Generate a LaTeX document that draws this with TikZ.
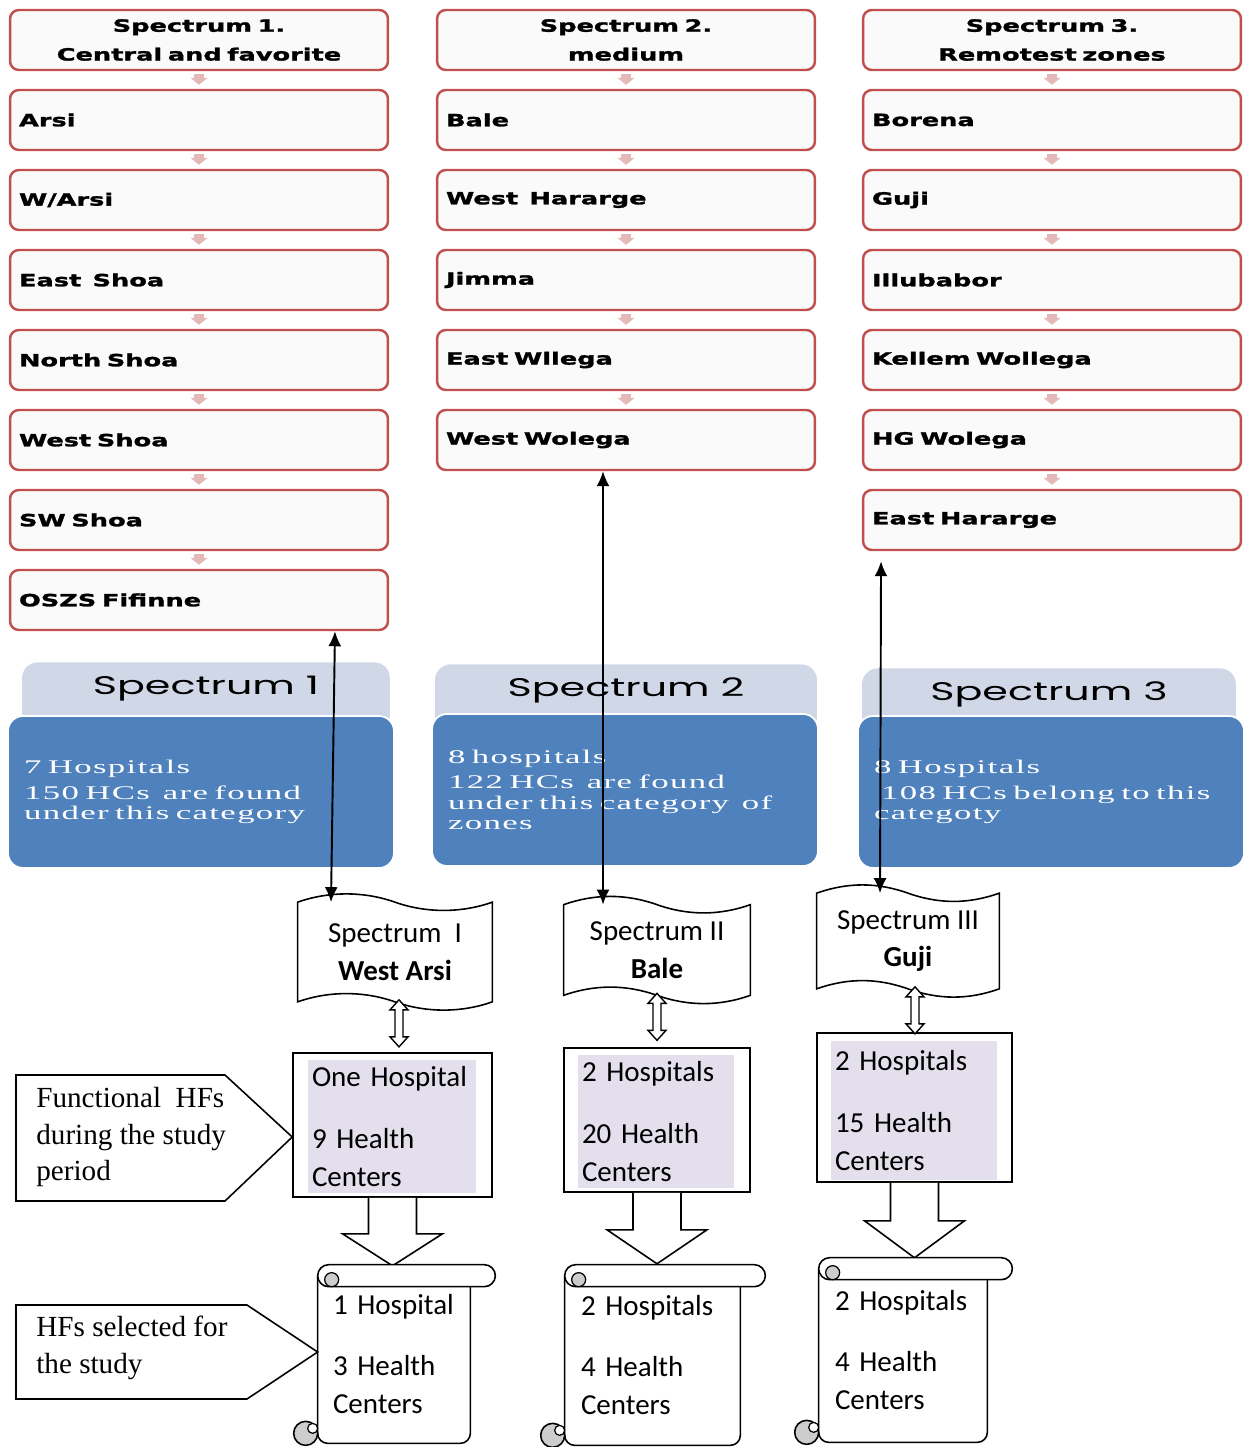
\documentclass[tikz,border=0pt]{standalone}
\usepackage{fontspec}
\setmainfont{Carlito}
\newfontfamily\zonefont[FakeStretch=1.52,FakeBold=1.6]{DejaVu Sans}
\newfontfamily\tabfont[FakeStretch=1.62]{Poppins}
\newfontfamily\bluefont[FakeStretch=1.8,LetterSpace=7]{Liberation Serif}
\newfontfamily\notefont{Liberation Serif}
\usetikzlibrary{arrows.meta,calc}

\definecolor{zonered}{RGB}{192,80,77}
\definecolor{zonepink}{RGB}{229,185,183}
\definecolor{tabgray}{RGB}{208,216,232}
\definecolor{specblue}{RGB}{79,129,189}
\definecolor{hflilac}{RGB}{228,223,236}
\definecolor{curlgray}{RGB}{205,205,205}

% wavy (punched tape) outline round a node
\newcommand\wavyline[1]{%
  \draw[line width=0.9pt] (#1.north west)
    .. controls +(31,-11) and +(-31,-11) .. (#1.north)
    .. controls +(31,11) and +(-31,11) .. (#1.north east)
    -- (#1.south east)
    .. controls +(-31,11) and +(31,11) .. (#1.south)
    .. controls +(-31,-11) and +(31,-11) .. (#1.south west) -- cycle;}

% scroll outline round a node
\newcommand\scrollline[1]{%
  \draw[line width=0.9pt,rounded corners=0.2cm] ($(#1.north west)+(0,11)$)
    -- (#1.south west) -- (#1.south east) -- ($(#1.north east)+(0,22)$);
  \draw[line width=0.9pt,fill=white,rounded corners=0.22cm] (#1.north west)
    rectangle ($(#1.north east)+(25,22)$);
  \filldraw[line width=0.7pt,fill=curlgray] ($(#1.north west)+(14,15)$) circle (7);
  \filldraw[line width=0.9pt,fill=curlgray] ($(#1.south west)+(-12,-10)$) circle (12);
  \filldraw[line width=0.7pt,fill=white] ($(#1.south west)+(-5,-15)$) circle (5);}

\begin{document}
\begin{tikzpicture}
  [x=0.02cm,y=-0.02cm,
   zone/.style={rectangle,rounded corners=5pt,draw=zonered,line width=1.4pt,
     fill=black!2,minimum height=1.2cm,text width=7.2cm,inner xsep=0.18cm,
     align=left,font=\zonefont\bfseries\fontsize{9.6}{16.4}\selectfont},
   zonehead/.style={zone,align=center},
   zonearr/.style={zonepink,line width=0.2cm,
     -{Triangle[width=0.34cm,length=0.14cm]},shorten <=0.06cm,shorten >=0.08cm},
   tab/.style={rectangle,rounded corners=9pt,fill=tabgray,minimum height=1.36cm,
     text height=0.42cm,text depth=0.5cm,anchor=north,
     font=\tabfont\fontsize{14.5}{16}\selectfont},
   spec/.style={rectangle,rounded corners=0.3cm,fill=specblue,draw=white,
     line width=1pt,minimum height=3.04cm,text width=7.08cm,inner xsep=0.32cm,
     align=left,text=white,font=\bluefont\fontsize{11}{11.5}\selectfont},
   longarr/.style={{Latex[length=0.3cm,width=0.26cm]}-{Latex[length=0.3cm,width=0.26cm]},
     line width=1.1pt},
   wave/.style={rectangle,inner sep=0,align=center,
     font=\fontsize{16.5}{21.5}\selectfont},
   hollow/.style={line width=0.8pt,fill=white},
   hfbox/.style={rectangle,draw,line width=0.9pt,fill=white,inner sep=0},
   hftext/.style={rectangle,fill=hflilac,inner xsep=0.08cm,align=left,
     font=\fontsize{16.5}{21.5}\selectfont},
   block/.style={line width=0.9pt,fill=white},
   scrollbox/.style={rectangle,inner xsep=0.3cm,align=left,
     font=\fontsize{16.5}{21.5}\selectfont},
   note/.style={inner sep=0,anchor=west,align=left,
     font=\notefont\fontsize{16.6}{20.7}\selectfont},
   notebox/.style={line width=0.9pt}]

  \useasboundingbox (0,0) rectangle (1243,1447);

  % zone lists
  \node[zonehead] (a0) at (199,40) {Spectrum 1.\\Central and favorite};
  \foreach \z [count=\i] in {Arsi,W/Arsi,East\ \ Shoa,North Shoa,West Shoa,SW Shoa,OSZS Fifinne}
    \node[zone] (a\i) at (199,40+80*\i) {\z};
  \node[zonehead] (b0) at (626,40) {Spectrum 2.\\medium};
  \foreach \z [count=\i] in {Bale,West\ \ Hararge,Jimma,East Wllega,West Wolega}
    \node[zone] (b\i) at (626,40+80*\i) {\z};
  \node[zonehead] (c0) at (1052,40) {Spectrum 3.\\Remotest zones};
  \foreach \z [count=\i] in {Borena,Guji,Illubabor,Kellem Wollega,HG Wolega,East Hararge}
    \node[zone] (c\i) at (1052,40+80*\i) {\z};

  \foreach \i [evaluate=\i as \j using int(\i+1)] in {0,...,6}
    \draw[zonearr] (a\i) -- (a\j);
  \foreach \i [evaluate=\i as \j using int(\i+1)] in {0,...,4}
    \draw[zonearr] (b\i) -- (b\j);
  \foreach \i [evaluate=\i as \j using int(\i+1)] in {0,...,5}
    \draw[zonearr] (c\i) -- (c\j);

  % spectrum summaries
  \node[tab,minimum width=7.36cm] (t1) at (206,662) {Spectrum 1};
  \node[tab,minimum width=7.64cm] (t2) at (626,664) {Spectrum 2};
  \node[tab,minimum width=7.48cm] (t3) at (1049,668) {Spectrum 3};
  \node[spec] (s1) at (201,792) {7 Hospitals\\[2.8pt]150 HCs\ \ are found\\under this category};
  \node[spec] (s2) at (625,790) {8 hospitals\\[2.8pt]122 HCs\ \ are found\\under this category\ \ of\\zones};
  \node[spec] (s3) at (1051,792) {8 Hospitals\\[2.8pt]\hspace*{4pt}108 HCs belong to this\\categoty};

  % selected zones
  \node[wave,minimum width=3.88cm,minimum height=1.98cm] (wv1) at (395,952) {Spectrum\ \ I\\\textbf{West Arsi}};
  \node[wave,minimum width=3.72cm,minimum height=1.8cm] (wv2) at (657,950) {Spectrum II\\\textbf{Bale}};
  \node[wave,minimum width=3.64cm,minimum height=1.9cm] (wv3) at (908,941) {Spectrum III\\\textbf{Guji}};
  \wavyline{wv1}
  \wavyline{wv2}
  \wavyline{wv3}

  \draw[longarr] ([xshift=2.72cm]a7.south) -- ([xshift=-1.28cm]wv1.north);
  \draw[longarr] ([xshift=-0.46cm]b5.south) -- ([xshift=-1.08cm]wv2.north);
  \draw[longarr] ([xshift=-3.42cm,yshift=-0.2cm]c6.south) -- ([xshift=-0.56cm]wv3.north);

  % functional facilities
  \node[hfbox,minimum width=3.98cm,minimum height=2.88cm] (hf1) at (392.5,1125) {};
  \node[hfbox,minimum width=3.72cm,minimum height=2.88cm] (hf2) at (657,1120) {};
  \node[hfbox,minimum width=3.9cm,minimum height=2.98cm] (hf3) at (914.5,1107.5) {};
  \node[hftext,text width=3.2cm,minimum height=2.66cm] (hf1t) at (392,1126.5) {One Hospital\\[13.5pt]9 Health\\Centers};
  \node[hftext,text width=2.96cm,minimum height=2.66cm] (hf2t) at (656,1121.5) {2 Hospitals\\[13.5pt]20 Health\\Centers};
  \node[hftext,text width=3.16cm,minimum height=2.78cm] (hf3t) at (914,1110.5) {2 Hospitals\\[13.5pt]15 Health\\Centers};

  \foreach \n/\dx in {wv1/4,wv2/0,wv3/7}
    \draw[hollow] ($(\n.south)+(\dx,-2)$) -- ++(9,10) -- ++(-5,0) -- ++(0,27) -- ++(5,0)
      -- ++(-9,10) -- ++(-9,-10) -- ++(5,0) -- ++(0,-27) -- ++(-5,0) -- cycle;

  \foreach \n/\s/\h in {hf1/36/32,hf2/37/34,hf3/38/37}
    \draw[block] ($(\n.south)+(-24,0)$) -- ++(0,\s) -- ++(-26,0) -- ++(50,\h)
      -- ++(50,-\h) -- ++(-26,0) -- ++(0,-\s);

  % selected facilities
  \node[scrollbox,minimum width=3.04cm,minimum height=3.56cm,text width=2.44cm] (sc1) at (394,1354) {1 Hospital\\[13.5pt]3 Health\\Centers};
  \node[scrollbox,minimum width=3.5cm,minimum height=3.6cm,text width=2.86cm] (sc2) at (652.5,1355) {2 Hospitals\\[13.5pt]4 Health\\Centers};
  \node[scrollbox,minimum width=3.36cm,minimum height=3.68cm,text width=2.72cm] (sc3) at (903,1350) {2 Hospitals\\[13.5pt]4 Health\\Centers};
  \scrollline{sc1}
  \scrollline{sc2}
  \scrollline{sc3}

  % side notes
  \node[note] (fhf) at (36,1137) {Functional\ \ HFs\\during the study\\period};
  \draw[notebox] ($(fhf.west)+(-20,-62)$) -- ($(fhf.west)+(189,-62)$) -- (fhf.west -| hf1.west)
    -- ($(fhf.west)+(189,64)$) -- ($(fhf.west)+(-20,64)$) -- cycle;
  \node[note] (hsel) at (36,1348) {HFs selected for\\the study};
  \draw[notebox] ($(hsel.west)+(-20,-43)$) -- ($(hsel.west)+(211,-43)$) -- ($(hsel.west -| sc1.west)+(0,4)$)
    -- ($(hsel.west)+(211,51)$) -- ($(hsel.west)+(-20,51)$) -- cycle;

\end{tikzpicture}
\end{document}
